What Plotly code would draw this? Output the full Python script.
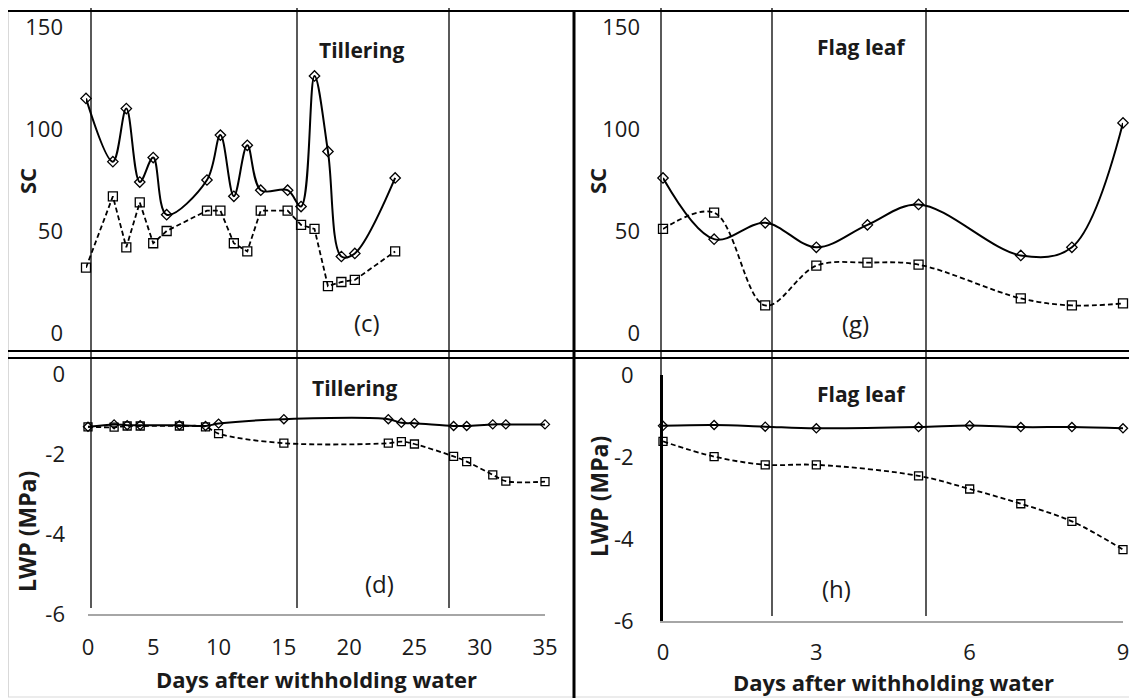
import plotly.graph_objects as go

# ---------------- data ----------------
days_c = [0, 2, 3, 4, 5, 6, 9, 10, 11, 12, 13, 15, 16, 17, 18, 19, 20, 23]
sc_c_solid = [115, 84, 110, 74, 86, 58, 75, 97, 67, 92, 70, 70, 62, 126, 89, 37.5, 39, 76]
sc_c_dash = [32, 67, 42, 64, 44, 50, 60, 60, 44, 40, 60, 60, 53, 51, 23, 25, 26, 40]

days_d = [0, 2, 3, 4, 7, 9, 10, 15, 23, 24, 25, 28, 29, 31, 32, 35]
lwp_d_solid = [-1.32, -1.26, -1.28, -1.28, -1.28, -1.30, -1.24, -1.13, -1.13, -1.22, -1.23, -1.30, -1.30, -1.26, -1.26, -1.26]
lwp_d_dash = [-1.32, -1.33, -1.30, -1.30, -1.30, -1.32, -1.49, -1.73, -1.73, -1.69, -1.75, -2.06, -2.19, -2.52, -2.68, -2.69]

days_g = [0, 1, 2, 3, 4, 5, 7, 8, 9]
sc_g_solid = [76, 46, 54, 42, 53, 63, 38, 42, 103]
sc_g_dash = [51, 59, 13.5, 33, 34.5, 33.5, 17, 13.5, 14.5]

days_h = [0, 1, 2, 3, 5, 6, 7, 8, 9]
lwp_h_solid = [-1.24, -1.22, -1.26, -1.30, -1.27, -1.23, -1.27, -1.27, -1.30]
lwp_h_dash = [-1.62, -1.99, -2.19, -2.19, -2.46, -2.78, -3.14, -3.57, -4.26]

sc_ticks = [0, 50, 100, 150]
lwp_ticks = [-6, -4, -2, 0]
lwp_ticklabels = ["-6", "-4", "-2", "0"]
days_ticks_left = [0, 5, 10, 15, 20, 25, 30, 35]
days_ticks_right = [0, 3, 6, 9]

# ---------------- helpers ----------------
# The page body has an 8px default margin, so the figure is drawn 8px in from
# the window corner; positions below are given in window pixels.
OFF = 8
W, H = 1137 - OFF, 698 - OFF
FONT = "Open Sans"
INK = "#1a1a1a"


def fx(px):
    return (px - OFF) / W


def fy(py):
    return 1 - (py - OFF) / H


def solid(x, y, xa, ya, msize=8):
    return go.Scatter(x=x, y=y, xaxis=xa, yaxis=ya, mode="lines+markers",
                      line=dict(color="black", width=2, shape="spline", smoothing=1),
                      marker=dict(symbol="diamond-open", size=msize, color="black",
                                  line=dict(width=1.3, color="black")),
                      cliponaxis=False, showlegend=False)


def dashed(x, y, xa, ya, shape="spline", msize=9):
    return go.Scatter(x=x, y=y, xaxis=xa, yaxis=ya, mode="lines+markers",
                      line=dict(color="black", width=1.8, dash="5px,3px", shape=shape, smoothing=1),
                      marker=dict(symbol="square-open", size=msize, color="black",
                                  line=dict(width=1.3, color="black")),
                      cliponaxis=False, showlegend=False)


fig = go.Figure()
fig.add_trace(dashed(days_c, sc_c_dash, "x", "y", shape="linear"))
fig.add_trace(solid(days_c, sc_c_solid, "x", "y"))
fig.add_trace(dashed(days_d, lwp_d_dash, "x2", "y2", msize=8))
fig.add_trace(solid(days_d, lwp_d_solid, "x2", "y2", msize=7))
fig.add_trace(dashed(days_g, sc_g_dash, "x3", "y3"))
fig.add_trace(solid(days_g, sc_g_solid, "x3", "y3"))
fig.add_trace(dashed(days_h, lwp_h_dash, "x4", "y4", msize=8))
fig.add_trace(solid(days_h, lwp_h_solid, "x4", "y4", msize=7))

tickfont = dict(family=FONT, size=22, color=INK)

hidden_x = dict(visible=False, showgrid=False, zeroline=False, fixedrange=True, automargin=False)


def yax(domain, rng, vals, anchor, labels=None, line=False):
    d = dict(domain=domain, range=rng, tickvals=vals, anchor=anchor,
             showgrid=False, zeroline=False, ticks="", tickfont=tickfont,
             ticklabelstandoff=22, automargin=False)
    if labels is not None:
        d["ticktext"] = labels
    if line:
        d.update(showline=True, linecolor="black", linewidth=3)
    return d


def xax(domain, rng, vals, anchor, standoff=13):
    return dict(domain=domain, range=rng, tickvals=vals, anchor=anchor,
                showgrid=False, zeroline=False, ticks="", tickfont=tickfont,
                showline=True, linecolor="#a6a6a6", linewidth=2,
                ticklabelstandoff=standoff, automargin=False)


fig.update_layout(
    template="none",
    width=W, height=H,
    margin=dict(l=0, r=0, t=0, b=0, pad=0, autoexpand=False),
    paper_bgcolor="white", plot_bgcolor="rgba(0,0,0,0)",
    xaxis=dict(domain=[fx(86), fx(543)], range=[0, 34], anchor="y", **hidden_x),
    yaxis=yax([fy(333), fy(27)], [0, 150], sc_ticks, "x"),
    xaxis2=xax([fx(88), fx(545)], [0, 35], days_ticks_left, "y2"),
    yaxis2=yax([fy(614), fy(374)], [-6, 0], lwp_ticks, "x2", labels=lwp_ticklabels),
    xaxis3=dict(domain=[fx(663), fx(1123)], range=[0, 9], anchor="y3", **hidden_x),
    yaxis3=yax([fy(333), fy(27)], [0, 150], sc_ticks, "x3"),
    xaxis4=xax([fx(663), fx(1123)], [0, 9], days_ticks_right, "y4", standoff=11),
    yaxis4=yax([fy(621), fy(375)], [-6, 0], lwp_ticks, "x4", labels=lwp_ticklabels, line=True),
)

# ---------------- table-like frame lines ----------------
shapes = []


def hline(y, x0, x1, width=2, color="black"):
    shapes.append(dict(type="line", xref="paper", yref="paper",
                       x0=fx(x0), x1=fx(x1), y0=fy(y), y1=fy(y),
                       line=dict(color=color, width=width)))


def vline(x, y0, y1, width=1.3, color="black"):
    shapes.append(dict(type="line", xref="paper", yref="paper",
                       x0=fx(x), x1=fx(x), y0=fy(y0), y1=fy(y1),
                       line=dict(color=color, width=width)))


vline(8.5, 11, 697, width=1, color="#d9d9d9")
hline(697, 8, 1137, width=1, color="#d9d9d9")
hline(11, 8, 1137)
hline(351, 8, 1137)
hline(358, 8, 1137)
vline(574, 10, 698, width=3)
for x in (91, 297, 449):
    vline(x, 5, 608)
for x in (772, 926):
    vline(x, 5, 616)
vline(661, 5, 375)
fig.update_layout(shapes=shapes)

# ---------------- text ----------------
ann = []


def text(s, x, y, size, bold=False, angle=0):
    ann.append(dict(text=f"<b>{s}</b>" if bold else s, xref="paper", yref="paper",
                    x=fx(x), y=fy(y), xanchor="center", yanchor="middle",
                    showarrow=False, textangle=angle,
                    font=dict(family=FONT, size=size, color=INK)))


text("SC", 27, 181, 22, bold=True, angle=-90)
text("SC", 597, 181, 22, bold=True, angle=-90)
text("LWP (MPa)", 27, 532, 23, bold=True, angle=-90)
text("LWP (MPa)", 599, 497, 23, bold=True, angle=-90)
text("Days after withholding water", 316, 679, 22, bold=True)
text("Days after withholding water", 893, 682, 22, bold=True)
text("Tillering", 362, 50, 21, bold=True)
text("Tillering", 355, 388, 21, bold=True)
text("Flag leaf", 861, 47, 21, bold=True)
text("Flag leaf", 861, 394, 21, bold=True)
text("(c)", 367, 322, 24)
text("(d)", 379, 583, 24)
text("(g)", 855, 324, 24)
text("(h)", 836, 588, 24)
fig.update_layout(annotations=ann)

fig.write_html("out.html")
